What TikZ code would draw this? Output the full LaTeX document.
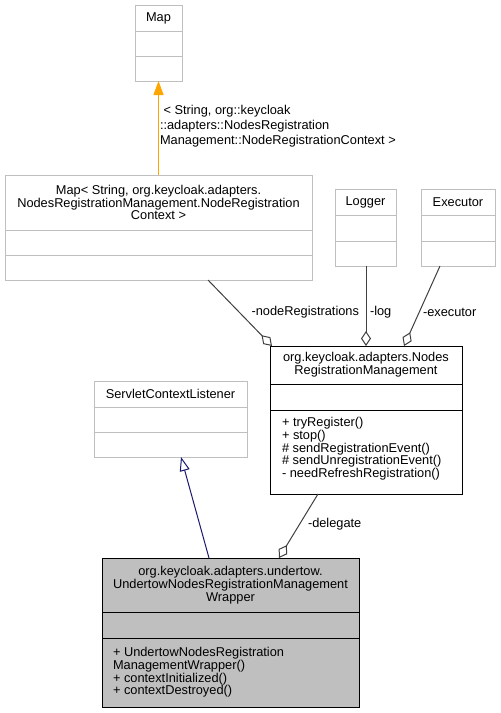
\documentclass[tikz,border=0pt]{standalone}
\usepackage{fontspec}
\setmainfont{Liberation Sans}
\usetikzlibrary{arrows.meta}
\definecolor{boxgray}{HTML}{BFBFBF}
\definecolor{fillgray}{HTML}{BFBFBF}
\definecolor{edgegray}{HTML}{404040}
\definecolor{navyedge}{HTML}{191970}
\definecolor{orangeedge}{HTML}{FFA500}
\begin{document}
\begin{tikzpicture}[x=1pt,y=-1pt,
  every node/.style={font=\fontsize{12.8}{12.9}\selectfont},
  comp/.style={draw, rectangle, line width=1pt, inner sep=0pt, outer sep=0pt, anchor=north west, align=center},
  graybox/.style={comp, draw=boxgray, fill=white},
  blackbox/.style={comp, draw=black, fill=white},
  wrapbox/.style={comp, draw=black, fill=fillgray},
  lbl/.style={inner sep=0pt, outer sep=0pt},
  mtext/.style={inner sep=0pt, outer sep=0pt, anchor=north west, align=left},
  agg/.style={draw=edgegray, line width=1pt, -{Diamond[open, length=15pt, width=10pt]}},
  gen/.style={draw=navyedge, line width=1pt, -{Triangle[open, length=14pt, width=10pt]}},
  tmpl/.style={draw=orangeedge, line width=1pt, -{Triangle[fill=orangeedge, length=14pt, width=10pt]}}
]
\useasboundingbox[fill=white] (0,0) rectangle (501,713);

% Map
\node[graybox, minimum width=47pt, minimum height=26pt] (map-t) at (135,5) {Map};
\node[graybox, minimum width=47pt, minimum height=25pt] (map-a) at (135,31) {};
\node[graybox, minimum width=47pt, minimum height=25pt] (map-m) at (135,56) {};

% Map< ... >
\node[graybox, minimum width=307pt, minimum height=55pt] (mapi-t) at (5,175)
  {Map< String, org.keycloak.adapters.\\NodesRegistrationManagement.NodeRegistration\\Context >};
\node[graybox, minimum width=307pt, minimum height=25pt] (mapi-a) at (5,230) {};
\node[graybox, minimum width=307pt, minimum height=25pt] (mapi-m) at (5,255) {};

% Logger
\node[graybox, minimum width=61pt, minimum height=26pt] (log-t) at (335,189) {Logger};
\node[graybox, minimum width=61pt, minimum height=26pt] (log-a) at (335,215) {};
\node[graybox, minimum width=61pt, minimum height=25pt] (log-m) at (335,241) {};

% Executor
\node[graybox, minimum width=74pt, minimum height=26pt] (exe-t) at (421,189) {Executor};
\node[graybox, minimum width=74pt, minimum height=26pt] (exe-a) at (421,215) {};
\node[graybox, minimum width=74pt, minimum height=25pt] (exe-m) at (421,241) {};

% NodesRegistrationManagement
\node[blackbox, minimum width=192pt, minimum height=38pt] (nrm-t) at (270,346)
  {org.keycloak.adapters.Nodes\\RegistrationManagement};
\node[blackbox, minimum width=192pt, minimum height=26pt] (nrm-a) at (270,384) {};
\node[blackbox, minimum width=192pt, minimum height=84pt] (nrm-m) at (270,410) {};
\node[mtext] (nrm-mt) at (282,417)
  {+ tryRegister()\\+ stop()\\\# sendRegistrationEvent()\\\# sendUnregistrationEvent()\\- needRefreshRegistration()};

% ServletContextListener
\node[graybox, minimum width=153pt, minimum height=26pt] (scl-t) at (94,381) {ServletContextListener};
\node[graybox, minimum width=153pt, minimum height=25pt] (scl-a) at (94,407) {};
\node[graybox, minimum width=153pt, minimum height=25pt] (scl-m) at (94,432) {};

% Wrapper
\node[wrapbox, minimum width=257pt, minimum height=54pt] (wr-t) at (102,558)
  {org.keycloak.adapters.undertow.\\UndertowNodesRegistrationManagement\\Wrapper};
\node[wrapbox, minimum width=257pt, minimum height=26pt] (wr-a) at (102,612) {};
\node[wrapbox, minimum width=257pt, minimum height=69pt] (wr-m) at (102,638) {};
\node[mtext] (wr-mt) at (113,647)
  {+ UndertowNodesRegistration\\ManagementWrapper()\\+ contextInitialized()\\+ contextDestroyed()};

% Edges
\draw[tmpl] (mapi-t.north) -- (map-m.south);
\node[mtext, font=\fontsize{12.8}{15}\selectfont] (tmpl-l) at (160,105)
  {\hspace*{3.5pt}< String, org::keycloak\\::adapters::NodesRegistration\\Management::NodeRegistrationContext >};

\draw[agg] ([xshift=203pt]mapi-m.south west) -- ([xshift=2pt]nrm-t.north west);
\node[lbl, anchor=east] (nr-l) at (359,312) {-nodeRegistrations};

\draw[agg] ([xshift=31pt]log-m.south west) -- ([xshift=96pt]nrm-t.north west);
\node[lbl, anchor=west] (log-l) at (370,312) {-log};

\draw[agg] ([xshift=19pt]exe-m.south west) -- ([xshift=134pt]nrm-t.north west);
\node[lbl, anchor=west] (exe-l) at (423,312) {-executor};

\draw[agg] ([xshift=48pt]nrm-m.south west) -- ([xshift=177pt]wr-t.north west);
\node[lbl, anchor=west] (del-l) at (308,524) {-delegate};

\draw[gen] ([xshift=107pt]wr-t.north west) -- ([xshift=87pt]scl-m.south west);
\end{tikzpicture}
\end{document}
